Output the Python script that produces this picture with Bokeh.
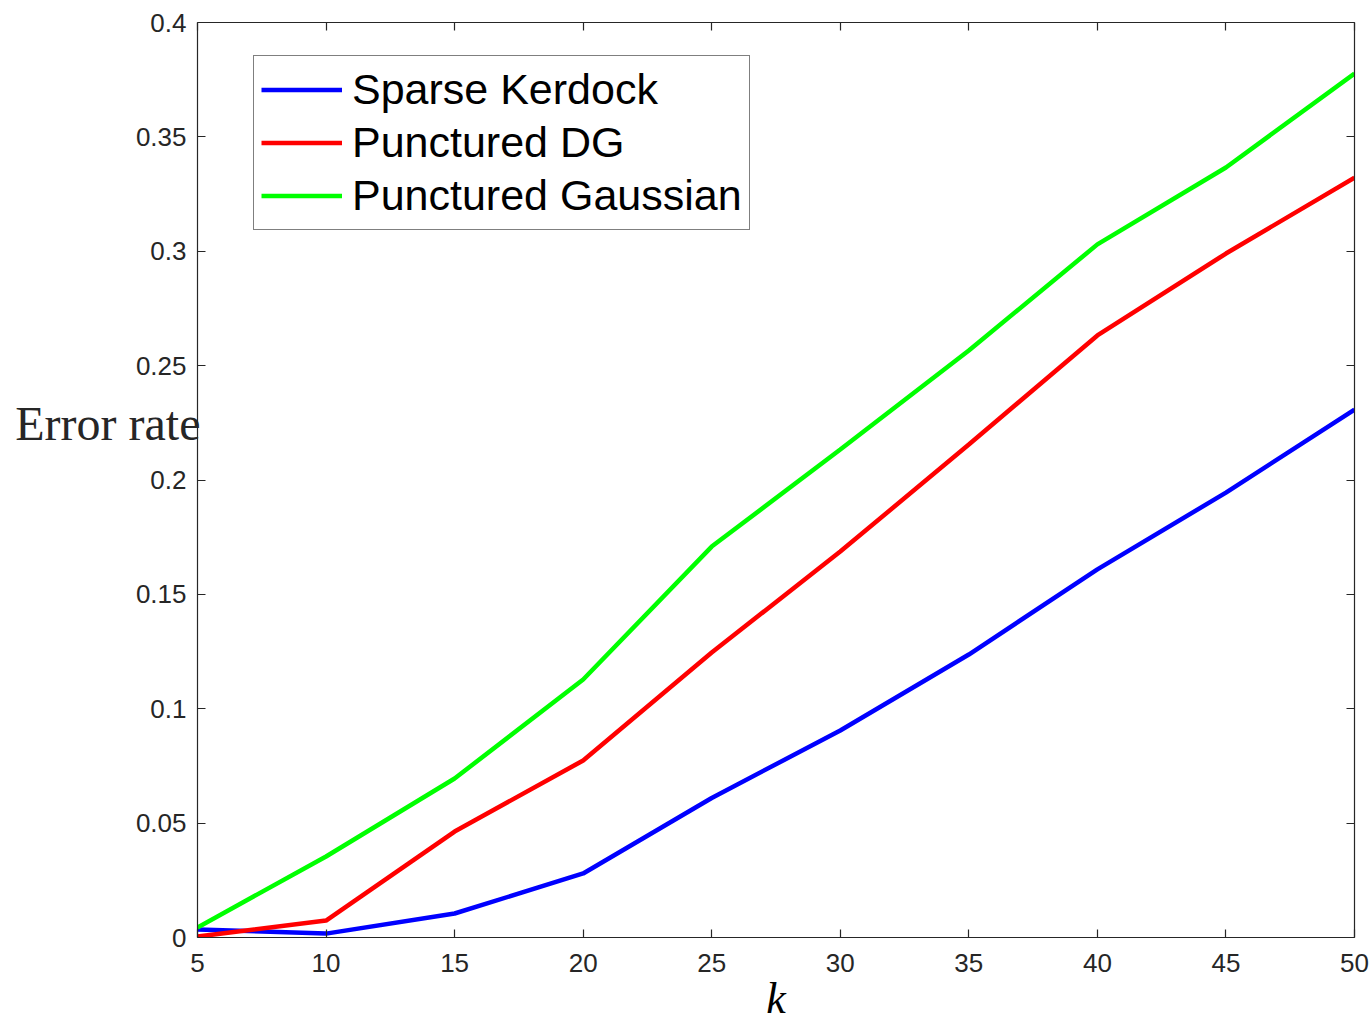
from bokeh.plotting import figure
from bokeh.models import Range1d, FixedTicker, LinearAxis, Legend, LegendItem
from bokeh.embed import file_html
from bokeh.resources import INLINE

k_values = [5, 10, 15, 20, 25, 30, 35, 40, 45, 50]
sparse_kerdock = [0.0035, 0.0017, 0.0105, 0.0280, 0.0610, 0.0905, 0.1237, 0.1609, 0.1945, 0.2308]
punctured_dg = [0.0004, 0.0074, 0.0463, 0.0774, 0.1246, 0.1687, 0.2155, 0.2632, 0.2990, 0.3322]
punctured_gaussian = [0.0044, 0.0354, 0.0695, 0.1128, 0.1709, 0.2133, 0.2566, 0.3030, 0.3366, 0.3777]

x_ticks = [5, 10, 15, 20, 25, 30, 35, 40, 45, 50]
x_tick_labels = ["5", "10", "15", "20", "25", "30", "35", "40", "45", "50"]
y_ticks = [0, 0.05, 0.1, 0.15, 0.2, 0.25, 0.3, 0.35, 0.4]
y_tick_labels = ["0", "0.05", "0.1", "0.15", "0.2", "0.25", "0.3", "0.35", "0.4"]

series_names = ["Sparse Kerdock", "Punctured DG", "Punctured Gaussian"]
series_colors = ["#0000ff", "#ff0000", "#00ff00"]

x_label = "k"
y_label = "Error rate"
y_label_pos = 0.2245

AX = "#262626"

p = figure(width=1372, height=1025, output_backend="svg", toolbar_location=None,
           x_range=Range1d(5, 50), y_range=Range1d(0, 0.4),
           min_border_left=197, min_border_top=22, min_border_right=18, min_border_bottom=88,
           x_axis_label=x_label)
p.outline_line_color = None
p.xgrid.visible = False
p.ygrid.visible = False
p.background_fill_color = "white"
p.border_fill_color = "white"

def style_axis(ax, ticks, labels, show_labels=True):
    ax.ticker = FixedTicker(ticks=ticks)
    if show_labels:
        ax.major_label_overrides = {t: l for t, l in zip(ticks, labels)}
    else:
        ax.major_label_overrides = {t: "" for t in ticks}
    ax.major_tick_in = 8
    ax.major_tick_out = 0
    ax.minor_tick_in = 0
    ax.minor_tick_out = 0
    ax.axis_line_color = AX
    ax.axis_line_width = 1.2
    ax.major_tick_line_color = AX
    ax.major_tick_line_width = 1.2
    ax.major_label_text_color = AX
    ax.major_label_text_font = "Liberation Sans"
    ax.major_label_text_font_size = "26px" if show_labels else "0px"
    ax.major_label_standoff = 11 if show_labels else 0

style_axis(p.xaxis[0], x_ticks, x_tick_labels)
style_axis(p.yaxis[0], y_ticks, y_tick_labels)
p.xaxis[0].major_label_standoff = 16
p.xaxis[0].axis_label_text_font = "Liberation Serif"
p.xaxis[0].axis_label_text_font_style = "italic"
p.xaxis[0].axis_label_text_font_size = "44px"
p.xaxis[0].axis_label_text_color = "#000000"
p.xaxis[0].axis_label_standoff = -1

top_ax = LinearAxis()
right_ax = LinearAxis()
style_axis(top_ax, x_ticks, x_tick_labels, show_labels=False)
style_axis(right_ax, y_ticks, y_tick_labels, show_labels=False)
p.add_layout(top_ax, "above")
p.add_layout(right_ax, "right")

# horizontal y-axis title, drawn as the single tick label of an outer left axis
ylab_ax = LinearAxis(ticker=FixedTicker(ticks=[y_label_pos]),
                     major_label_overrides={y_label_pos: y_label})
ylab_ax.axis_line_color = None
ylab_ax.major_tick_line_color = None
ylab_ax.minor_tick_line_color = None
ylab_ax.major_tick_out = 0
ylab_ax.major_tick_in = 0
ylab_ax.major_label_text_font = "Liberation Serif"
ylab_ax.major_label_text_font_size = "48px"
ylab_ax.major_label_text_color = AX
ylab_ax.major_label_standoff = -68
p.add_layout(ylab_ax, "left")

renderers = []
for vals, col in zip([sparse_kerdock, punctured_dg, punctured_gaussian], series_colors):
    r = p.line(k_values, vals, line_color=col, line_width=4.5)
    renderers.append(r)

legend = Legend(items=[LegendItem(label=n, renderers=[r]) for n, r in zip(series_names, renderers)],
                location=(56, 707))
legend.label_text_font = "Liberation Sans"
legend.label_text_font_size = "43px"
legend.label_text_color = "#000000"
legend.glyph_width = 81
legend.glyph_height = 53
legend.label_height = 53
legend.label_standoff = 10
legend.padding = 7
legend.spacing = 0
legend.margin = 0
legend.border_line_color = "#000000"
legend.border_line_width = 1
legend.background_fill_color = "white"
legend.background_fill_alpha = 1
p.add_layout(legend, "center")

open("out.html", "w").write(file_html(p, INLINE))
